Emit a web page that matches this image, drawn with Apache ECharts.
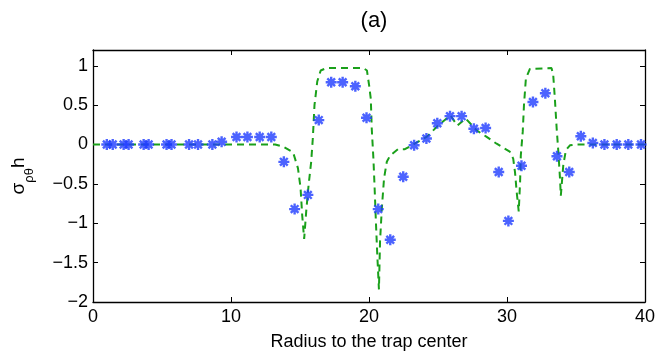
<!DOCTYPE html>
<html>
<head>
<meta charset="utf-8">
<script src="https://cdn.jsdelivr.net/npm/echarts@6/dist/echarts.min.js"></script>
<style>
  html, body { margin: 0; padding: 0; background: #fff; }
  #chart { width: 664px; height: 355px; }
</style>
</head>
<body>
<div id="chart"></div>
<script>
// simulated points (blue asterisks)
var starX = [1.0, 1.43, 2.22, 2.58, 3.67, 4.03, 5.33, 5.69, 6.96, 7.61, 8.65, 9.32,
  10.40, 11.19, 12.08, 12.92, 13.83, 14.61, 15.57, 16.36, 17.26, 18.09, 19.01, 19.82,
  20.67, 21.54, 22.48, 23.27, 24.16, 24.95, 25.87, 26.71, 27.60, 28.45, 29.4, 30.1,
  31.05, 31.88, 32.78, 33.62, 34.51, 35.35, 36.22, 37.06, 37.95, 38.79, 39.71];
var starY = [0, 0, 0, 0, 0, 0, 0, 0, 0, 0, 0, 0.035,
  0.096, 0.096, 0.096, 0.096, -0.22, -0.82, -0.64, 0.31, 0.79, 0.79, 0.74, 0.34,
  -0.82, -1.21, -0.41, -0.01, 0.076, 0.27, 0.36, 0.36, 0.20, 0.21, -0.35, -0.97,
  -0.27, 0.54, 0.65, -0.15, -0.35, 0.105, 0.02, 0, 0, 0, 0];

// theory curve (green dashed)
var lineX = [0, 5, 10, 13.2, 13.8, 14.5, 14.85, 15.04, 15.16, 15.3, 15.45, 15.62, 15.81,
  15.93, 16.05, 16.25, 16.5, 16.9, 19.6, 19.85, 20.01, 20.13, 20.2, 20.32, 20.4, 20.5,
  20.6, 20.72, 20.8, 20.93, 21.09, 21.29, 21.53, 22.1, 22.6, 23.3, 24.2, 25.0, 25.9,
  26.4, 27.0, 27.8, 28.5, 29.25, 30.2, 30.45, 30.58, 30.7, 30.85, 30.95, 31.0, 31.14,
  31.23, 31.37, 31.66, 33.23, 33.35, 33.47, 33.6, 33.72, 33.84, 33.9, 34.08, 34.27,
  34.56, 35.0, 40];
var lineY = [0, 0, 0, 0, -0.03, -0.1, -0.3, -0.55, -0.9, -1.2, -0.85, -0.52, -0.22,
  0.08, 0.5, 0.8, 0.94, 0.97, 0.97, 0.94, 0.75, 0.58, 0.2, -0.18, -0.52, -0.98,
  -1.4, -1.84, -1.23, -0.81, -0.43, -0.22, -0.14, -0.06, -0.06, 0.01, 0.1, 0.24, 0.37,
  0.24, 0.33, 0.18, 0.1, 0.01, -0.09, -0.18, -0.35, -0.6, -0.85, -0.47, -0.14, 0.16,
  0.5, 0.84, 0.96, 0.97, 0.88, 0.58, 0.2, -0.09, -0.43, -0.65, -0.26, -0.07,
  -0.01, 0, 0];

var xTicks = [0, 10, 20, 30, 40];
var yTicks = [-2, -1.5, -1, -0.5, 0, 0.5, 1];

var font = "'Liberation Sans', Arial, Helvetica, sans-serif";
var starPath = 'path://M5,0L5,10M0,5L10,5M1.5,1.5L8.5,8.5M1.5,8.5L8.5,1.5';

function fmtY(v) {
  if (yTicks.indexOf(Math.round(v * 100) / 100) < 0) return '';
  return String(v).replace('-', '\u2212');
}

var chart = echarts.init(document.getElementById('chart'));
var axisLine = { show: true, onZero: false, lineStyle: { color: '#000', width: 1.3 } };
var tick = { show: true, inside: true, length: 5, lineStyle: { color: '#000' } };

chart.setOption({
  animation: false,
  title: {
    text: '(a)', left: 369, top: 5, textAlign: 'center',
    textStyle: { fontFamily: font, fontSize: 22, fontWeight: 'normal', color: '#000' }
  },
  grid: { left: 93, right: 19, top: 50, bottom: 53, outerBoundsMode: 'none', containLabel: false },
  xAxis: [{
    type: 'value', min: xTicks[0], max: xTicks[4], interval: 10,
    name: 'Radius to the trap center', nameLocation: 'middle', nameGap: 31,
    nameTextStyle: { fontFamily: font, fontSize: 18, color: '#000' },
    axisLine: axisLine, axisTick: tick, splitLine: { show: false },
    axisLabel: { fontFamily: font, fontSize: 18, color: '#000', margin: 6 }
  }, {
    type: 'value', position: 'top', min: 0, max: 40, interval: 10,
    axisLine: axisLine, axisTick: tick, splitLine: { show: false },
    axisLabel: { show: false }
  }],
  yAxis: [{
    type: 'value', min: -2, max: 1.2, interval: 0.5,
    name: '{m|\u03c3}{s|\u03c1\u03b8}{m|h}', nameLocation: 'middle', nameGap: 57, nameRotate: 90,
    nameTextStyle: {
      rich: {
        m: { fontFamily: font, fontSize: 19, color: '#000', verticalAlign: 'top', lineHeight: 27 },
        s: { fontFamily: font, fontSize: 13, color: '#000', verticalAlign: 'bottom', lineHeight: 27 }
      }
    },
    axisLine: axisLine, axisTick: tick, splitLine: { show: false },
    axisLabel: { fontFamily: font, fontSize: 18, color: '#000', margin: 5, formatter: fmtY, showMaxLabel: false }
  }, {
    type: 'value', position: 'right', min: -2, max: 1.2, interval: 0.5,
    axisLine: axisLine, axisTick: tick, splitLine: { show: false },
    axisLabel: { show: false }
  }],
  series: [{
    type: 'line',
    data: lineX.map(function (x, i) { return [x, lineY[i]]; }),
    showSymbol: false,
    lineStyle: { color: '#1aa01a', width: 2, type: [7, 5] },
    z: 2
  }, {
    type: 'scatter',
    data: starX.map(function (x, i) { return [x, starY[i]]; }),
    symbol: starPath,
    symbolSize: 11,
    itemStyle: { color: 'transparent', borderColor: '#1f3cff', borderWidth: 2.4 },
    z: 3
  }]
});
</script>
</body>
</html>
